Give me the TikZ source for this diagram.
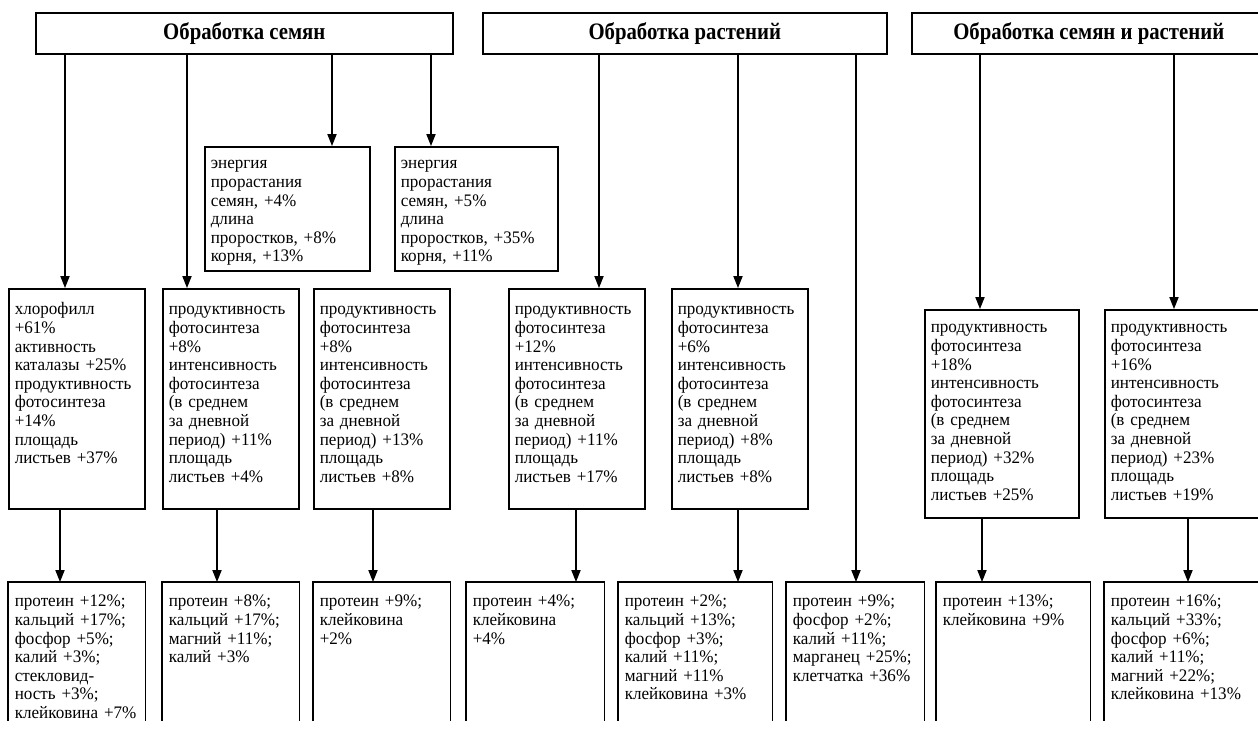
\documentclass[tikz,border=0pt]{standalone}
\usepackage{fontspec}
\setmainfont[FakeStretch=0.97]{Liberation Serif}
\newfontfamily\titrefont[FakeStretch=0.88]{Liberation Serif}
\usetikzlibrary{arrows.meta}
\newcommand\petit{\fontsize{8.8}{9.3}\selectfont}

\tikzset{
  titre/.style={draw, line width=0.8pt, anchor=north west, inner sep=0pt,
    minimum height=20.5pt, font=\titrefont\bfseries\fontsize{11.8}{12}\selectfont},
  bloc/.style={draw, line width=0.8pt, anchor=north west, align=left,
    inner xsep=3pt, inner ysep=3pt, font=\petit},
  milieu/.style={bloc, text height=10pt, text depth=94pt},
  droite/.style={bloc, text height=8.5pt, text depth=89.5pt},
  bas/.style={bloc, draw=none, text height=9pt, text depth=53.5pt},
  fleche/.style={-{Triangle[length=6pt,width=4.6pt]}, line width=0.6pt},
}

\begin{document}
\begin{tikzpicture}[x=0.5pt,y=-0.5pt]
  \useasboundingbox (0,0) rectangle (1258,729);
  \clip (0,0) rectangle (1258,729);
  % les titres
  \node[titre, minimum width=208.5pt] (t1) at (35,12) {Обработка семян};
  \node[titre, minimum width=202pt] (t2) at (482,12) {Обработка растений};
  \node[titre, minimum width=177pt] (t3) at (911,12) {Обработка семян и растений};
  % energie de germination
  \node[bloc, text width=76.5pt, text height=8pt, text depth=48pt] (e1) at (204,146)
    {энергия\\ прорастания\\ семян, +4\%\\ длина\\ проростков, +8\%\\ корня, +13\%};
  \node[bloc, text width=75.5pt, text height=8pt, text depth=48pt] (e2) at (394,146)
    {энергия\\ прорастания\\ семян, +5\%\\ длина\\ проростков, +35\%\\ корня, +11\%};
  % la rangee du milieu
  \node[milieu, text width=62pt] (m1) at (8,288)
    {хлорофилл\\ +61\%\\ активность\\ каталазы +25\%\\ продуктивность\\ фотосинтеза\\ +14\%\\ площадь\\ листьев +37\%};
  \node[milieu, text width=62pt] (m2) at (162,288)
    {продуктивность\\ фотосинтеза\\ +8\%\\ интенсивность\\ фотосинтеза\\ (в среднем\\ за дневной\\ период) +11\%\\ площадь\\ листьев +4\%};
  \node[milieu, text width=62pt] (m3) at (313,288)
    {продуктивность\\ фотосинтеза\\ +8\%\\ интенсивность\\ фотосинтеза\\ (в среднем\\ за дневной\\ период) +13\%\\ площадь\\ листьев +8\%};
  \node[milieu, text width=62pt] (m4) at (508,288)
    {продуктивность\\ фотосинтеза\\ +12\%\\ интенсивность\\ фотосинтеза\\ (в среднем\\ за дневной\\ период) +11\%\\ площадь\\ листьев +17\%};
  \node[milieu, text width=62pt] (m5) at (671,288)
    {продуктивность\\ фотосинтеза\\ +6\%\\ интенсивность\\ фотосинтеза\\ (в среднем\\ за дневной\\ период) +8\%\\ площадь\\ листьев +8\%};
  \node[droite, text width=71pt] (m6) at (924,309)
    {продуктивность\\ фотосинтеза\\ +18\%\\ интенсивность\\ фотосинтеза\\ (в среднем\\ за дневной\\ период) +32\%\\ площадь\\ листьев +25\%};
  \node[droite, text width=73pt] (m7) at (1104,309)
    {продуктивность\\ фотосинтеза\\ +16\%\\ интенсивность\\ фотосинтеза\\ (в среднем\\ за дневной\\ период) +23\%\\ площадь\\ листьев +19\%};
  % la rangee du bas
  \node[bas, text width=62pt] (b1) at (8,582)
    {протеин +12\%;\\ кальций +17\%;\\ фосфор +5\%;\\ калий +3\%;\\ стекловид-\\ ность +3\%;\\ клейковина +7\%};
  \node[bas, text width=62pt] (b2) at (162,582)
    {протеин +8\%;\\ кальций +17\%;\\ магний +11\%;\\ калий +3\%};
  \node[bas, text width=62pt] (b3) at (313,582)
    {протеин +9\%;\\ клейковина\\ +2\%};
  \node[bas, text width=62.5pt] (b4) at (466,582)
    {протеин +4\%;\\ клейковина\\ +4\%};
  \node[bas, text width=70.5pt] (b5) at (618,582)
    {протеин +2\%;\\ кальций +13\%;\\ фосфор +3\%;\\ калий +11\%;\\ магний +11\%\\ клейковина +3\%};
  \node[bas, text width=62.5pt] (b6) at (786,582)
    {протеин +9\%;\\ фосфор +2\%;\\ калий +11\%;\\ марганец +25\%;\\ клетчатка +36\%};
  \node[bas, text width=70.5pt] (b7) at (936,582)
    {протеин +13\%;\\ клейковина +9\%};
  \node[bas, text width=73pt] (b8) at (1104,582)
    {протеин +16\%;\\ кальций +33\%;\\ фосфор +6\%;\\ калий +11\%;\\ магний +22\%;\\ клейковина +13\%};
  % les cadres ouverts en bas
  \draw[line width=0.8pt] (b1.south west) |- (b1.north east) -- (b1.south east);
  \draw[line width=0.8pt] (b2.south west) |- (b2.north east) -- (b2.south east);
  \draw[line width=0.8pt] (b3.south west) |- (b3.north east) -- (b3.south east);
  \draw[line width=0.8pt] (b4.south west) |- (b4.north east) -- (b4.south east);
  \draw[line width=0.8pt] (b5.south west) |- (b5.north east) -- (b5.south east);
  \draw[line width=0.8pt] (b6.south west) |- (b6.north east) -- (b6.south east);
  \draw[line width=0.8pt] (b7.south west) |- (b7.north east) -- (b7.south east);
  \draw[line width=0.8pt] (b8.south west) |- (b8.north east) -- (b8.south east);
  % les fleches depuis les titres
  \draw[fleche] (t1.south -| 65,0) -- (m1.north -| 65,0);
  \draw[fleche] (t1.south -| 187,0) -- (m2.north -| 187,0);
  \draw[fleche] (t1.south -| 332,0) -- (e1.north -| 332,0);
  \draw[fleche] (t1.south -| 431,0) -- (e2.north -| 431,0);
  \draw[fleche] (t2.south -| 599,0) -- (m4.north -| 599,0);
  \draw[fleche] (t2.south -| 738,0) -- (m5.north -| 738,0);
  \draw[fleche] (t2.south -| 856,0) -- (b6.north -| 856,0);
  \draw[fleche] (t3.south -| 980,0) -- (m6.north -| 980,0);
  \draw[fleche] (t3.south -| 1174,0) -- (m7.north -| 1174,0);
  % les fleches vers le bas
  \draw[fleche] (m1.south -| 60,0) -- (b1.north -| 60,0);
  \draw[fleche] (m2.south -| 217,0) -- (b2.north -| 217,0);
  \draw[fleche] (m3.south -| 373,0) -- (b3.north -| 373,0);
  \draw[fleche] (m4.south -| 576,0) -- (b4.north -| 576,0);
  \draw[fleche] (m5.south -| 738,0) -- (b5.north -| 738,0);
  \draw[fleche] (m6.south -| 982,0) -- (b7.north -| 982,0);
  \draw[fleche] (m7.south -| 1188,0) -- (b8.north -| 1188,0);
\end{tikzpicture}
\end{document}
